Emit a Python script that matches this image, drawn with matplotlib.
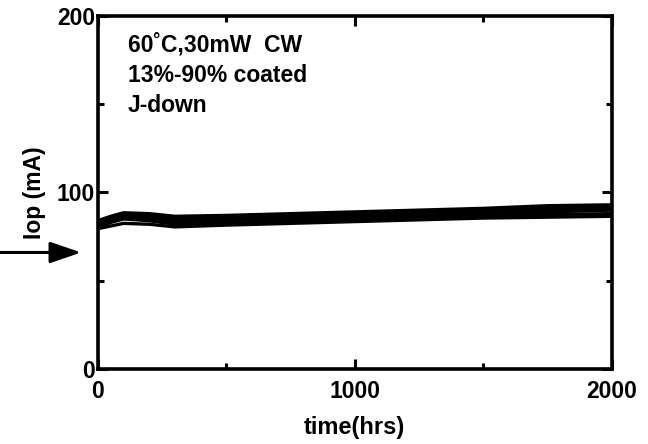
import matplotlib
matplotlib.use("Agg")
import matplotlib.pyplot as plt
from matplotlib.ticker import FixedLocator

plt.rcParams['font.family'] = ['Liberation Sans', 'DejaVu Sans']

# Aging time (hours) and operating current (mA) for each device
hours = [0, 50, 100, 200, 300, 500, 750, 1000, 1250, 1500, 1750, 2000]
dev1 = [80.0, 83.0, 85.0, 84.0, 82.0, 82.5, 83.5, 84.5, 85.5, 86.5, 87.5, 88.0]
dev2 = [83.0, 86.0, 88.0, 87.0, 85.5, 86.0, 87.0, 88.0, 89.0, 90.0, 91.5, 92.5]
dev3 = [79.5, 81.0, 82.5, 82.0, 80.5, 81.5, 82.5, 83.5, 84.5, 85.5, 86.0, 86.5]
dev4 = [84.0, 86.5, 88.5, 88.0, 86.5, 87.0, 88.0, 89.0, 90.0, 91.0, 92.5, 93.0]
dev5 = [81.0, 84.0, 86.0, 85.0, 83.5, 84.0, 85.0, 86.0, 87.0, 88.0, 89.0, 90.0]
dev6 = [82.0, 85.0, 87.0, 86.0, 84.5, 85.0, 86.0, 87.0, 88.0, 89.0, 90.5, 91.0]
devices = [dev1, dev2, dev3, dev4, dev5, dev6]

x_ticks = [0, 1000, 2000]
x_minor = [500, 1500]
y_ticks = [0, 100, 200]
y_minor = [50, 150]
initial_iop = 66  # level marked by the arrow

fig = plt.figure(figsize=(6.48, 4.44), dpi=100)
ax = fig.add_axes([0.151, 0.169, 0.793, 0.795])

for d in devices:
    ax.plot(hours, d, color='black', lw=2.4, solid_capstyle='round',
            solid_joinstyle='round')

ax.set_xlim(0, 2000)
ax.set_ylim(0, 200)
ax.xaxis.set_major_locator(FixedLocator(x_ticks))
ax.xaxis.set_minor_locator(FixedLocator(x_minor))
ax.yaxis.set_major_locator(FixedLocator(y_ticks))
ax.yaxis.set_minor_locator(FixedLocator(y_minor))
ax.set_xticklabels([str(v) for v in x_ticks], fontsize=16.5, fontweight='bold')
ax.set_yticklabels([str(v) for v in y_ticks], fontsize=16.5, fontweight='bold')

ax.tick_params(which='both', direction='in', top=True, right=True, width=2.2)
ax.tick_params(which='major', length=7)
ax.tick_params(which='minor', length=4)
ax.tick_params(axis='x', which='major', pad=8)
ax.tick_params(axis='y', which='major', pad=2)

for s in ax.spines.values():
    s.set_linewidth(2.6)

ax.set_xlabel('time(hrs)', fontsize=17, fontweight='bold', labelpad=9)
ax.set_ylabel('Iop (mA)', fontsize=16.5, fontweight='bold', labelpad=8)

ax.text(0.058, 0.832, '60˚C,30mW  CW\n13%-90% coated\nJ-down',
        transform=ax.transAxes, fontsize=16.5, fontweight='bold',
        va='center', ha='left', linespacing=1.4)

ax.annotate('', xy=(-65, initial_iop), xytext=(-380, initial_iop),
            xycoords='data', textcoords='data', annotation_clip=False,
            arrowprops=dict(arrowstyle='-|>,head_length=1.9,head_width=0.65',
                            color='black', lw=2.2, shrinkA=0, shrinkB=0))

fig.savefig('out.png', dpi=100)
